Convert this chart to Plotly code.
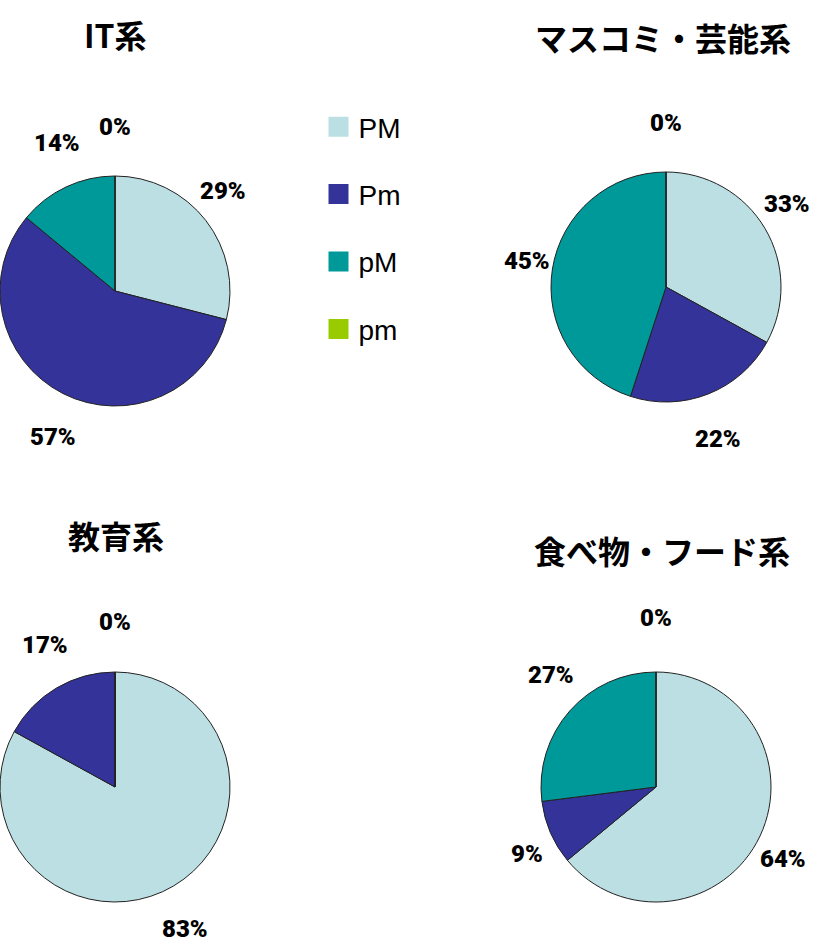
import math
import plotly.graph_objects as go

W, H = 823, 948

categories = ["PM", "Pm", "pM", "pm"]
colors = ["#BCDFE3", "#333399", "#009999", "#99CC00"]

titles = ["IT系", "マスコミ・芸能系", "教育系", "食べ物・フード系"]
it_values = [29, 57, 14, 0]
media_values = [33, 22, 45, 0]
edu_values = [83, 17, 0, 0]
food_values = [64, 9, 27, 0]
all_values = [it_values, media_values, edu_values, food_values]

# layout helpers: pixel centres of each pie, label ellipse semi-axes, title centres
centers = [(115, 291), (666, 287), (115, 787), (656, 787)]
label_axes = [(105, 126), (108, 126), (106, 127), (108, 130)]
title_pos = [(115, 34), (663, 37), (116, 535), (662, 550)]
R = 115
LABEL_K = 1.3

LABEL_FONT = dict(family="Roboto", size=24, color="black", weight=900)

fig = go.Figure()

for vals, (cx, cy), (ax, ay) in zip(all_values, centers, label_axes):
    fig.add_trace(go.Pie(
        labels=categories,
        values=vals,
        sort=False,
        direction="clockwise",
        rotation=0,
        marker=dict(colors=colors, line=dict(color="#222222", width=1)),
        textinfo="none",
        showlegend=False,
        domain=dict(x=[(cx - R) / W, (cx + R) / W],
                    y=[1 - (cy + R) / H, 1 - (cy - R) / H]),
        hoverinfo="label+percent",
    ))
    # percentage labels placed outside each slice at its mid angle
    total = float(sum(vals))
    cum = 0.0
    placed = set()
    for v in vals:
        mid = (cum + v / 2.0) / total * 2 * math.pi
        cum += v
        key = round(mid, 4)
        if key in placed:
            continue
        placed.add(key)
        lx = cx + LABEL_K * ax * math.sin(mid)
        ly = cy - LABEL_K * ay * math.cos(mid)
        fig.add_annotation(text=f"{round(v / total * 100):d}%",
                           x=lx / W, y=1 - ly / H, xref="paper", yref="paper",
                           showarrow=False, xanchor="center", yanchor="middle",
                           font=LABEL_FONT)

# legend entries
for cat, col in zip(categories, colors):
    fig.add_trace(go.Scatter(
        x=[None], y=[None], mode="markers", name=cat,
        legendgroup=cat,
        marker=dict(symbol="square", size=22, color=col, line=dict(color=col, width=4)),
    ))

for t, (tx, ty) in zip(titles, title_pos):
    fig.add_annotation(text=t, x=tx / W, y=1 - ty / H, xref="paper", yref="paper",
                       showarrow=False, xanchor="center", yanchor="middle",
                       font=dict(family="Noto Sans CJK JP", size=32, color="black", weight="bold"))

fig.update_layout(
    width=W, height=H,
    margin=dict(l=0, r=0, t=0, b=0),
    paper_bgcolor="white", plot_bgcolor="white",
    xaxis=dict(visible=False), yaxis=dict(visible=False),
    legend=dict(x=0.387, y=1 - 102 / H, xanchor="left", yanchor="top",
                font=dict(family="Liberation Sans", size=28, color="black"),
                traceorder="grouped", tracegroupgap=28,
                bgcolor="rgba(0,0,0,0)"),
)

fig.write_html("out.html")
